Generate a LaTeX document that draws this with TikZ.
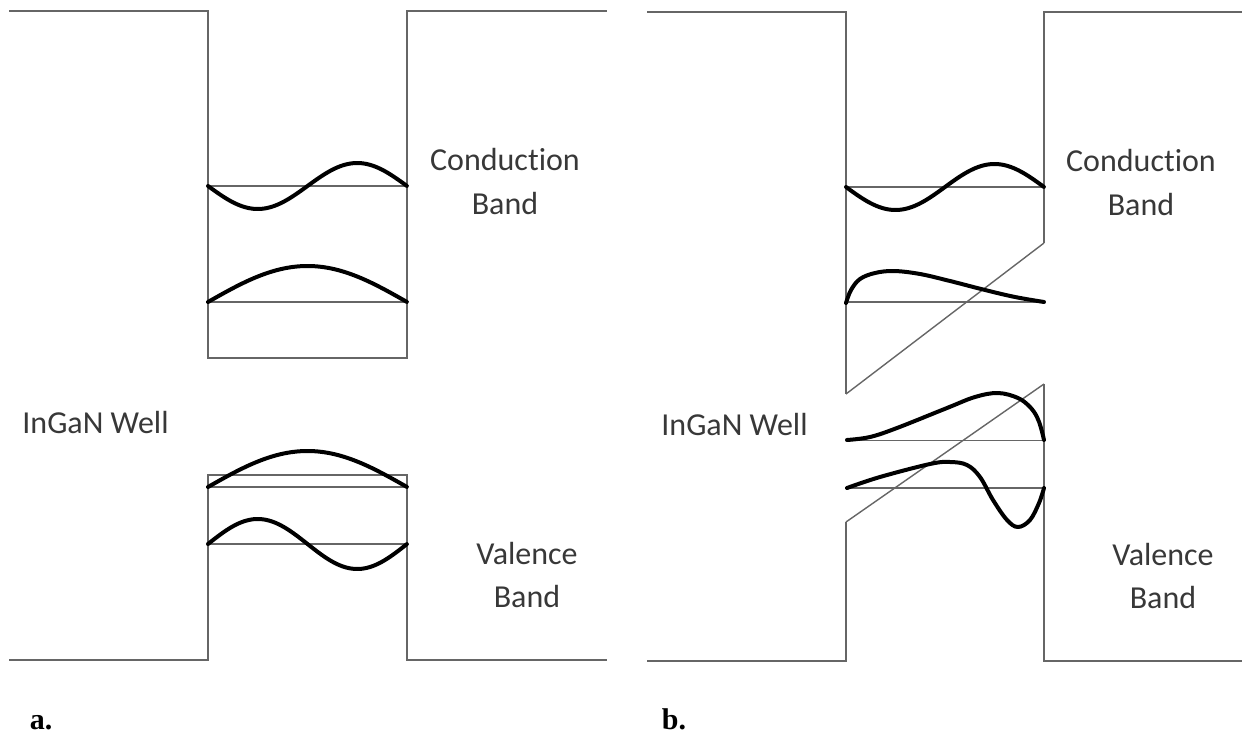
\documentclass[tikz,border=0pt]{standalone}
\usepackage{fontspec}
\setmainfont[Ligatures={NoCommon}]{Carlito}
\newfontfamily\serifb{Liberation Serif}
\begin{document}
\begin{tikzpicture}[x=0.5pt,y=-0.5pt,
  edge/.style={draw=black!60,line width=1pt},
  level/.style={draw=black!60,line width=0.9pt},
  slope/.style={draw=black!60,line width=0.7pt},
  wave/.style={draw=black,line width=2pt,line cap=round,line join=round},
  lab/.style={font=\fontsize{16}{19}\selectfont,text=black!78,inner sep=0pt,anchor=base},
  tag/.style={font=\serifb\bfseries\fontsize{15}{18}\selectfont,inner sep=0pt,anchor=base}]
\useasboundingbox (0,0) rectangle (1242,733);

% ---------- panel a ----------
\draw[edge] (9,11) -- (208,11) -- (208,358) -- (407,358) -- (407,11) -- (607,11);
\draw[edge] (9,660) -- (208,660) -- (208,475) -- (407,475) -- (407,660) -- (607,660);
\draw[level] (208,186) -- (407,186);
\draw[level] (208,302) -- (407,302);
\draw[level] (208,487) -- (407,487);
\draw[level] (208,544) -- (407,544);
\draw[wave] plot[domain=0:1,samples=80,variable=\t] ({208+199*\t},{186+23*sin(360*\t)});
\draw[wave] plot[domain=0:1,samples=80,variable=\t] ({208+199*\t},{302-36*sin(180*\t)});
\draw[wave] plot[domain=0:1,samples=80,variable=\t] ({208+199*\t},{487-36*sin(180*\t)});
\draw[wave] plot[domain=0:1,samples=80,variable=\t] ({208+199*\t},{544-25*sin(360*\t)});

\node[lab] (acb1) at (505,170) {Conduction};
\node[lab] (acb2) at (505,214) {Band};
\node[lab,anchor=base west] (awell) at (22,433) {InGaN Well};
\node[lab] (avb1) at (527,564) {Valence};
\node[lab] (avb2) at (527,607) {Band};
\node[tag] (atag) at (41,729) {a.};

% ---------- panel b ----------
\draw[edge] (647,12) -- (846,12) -- (846,394);
\draw[slope] (846,394) -- (1044,243);
\draw[edge] (1044,243) -- (1044,12) -- (1242,12);
\draw[edge] (647,661) -- (846,661) -- (846,522);
\draw[slope] (846,522) -- (1044,384);
\draw[edge] (1044,384) -- (1044,661) -- (1242,661);
\draw[level] (846,187) -- (1044,187);
\draw[level] (846,302) -- (1044,302);
\draw[level] (846,440.5) -- (1044,440.5);
\draw[level] (846,488) -- (1044,488);
\draw[wave] plot[domain=0:1,samples=80,variable=\t] ({846+198*\t},{187+23*sin(360*\t)});
\draw[wave] plot[smooth,tension=0.6] coordinates {(846,303) (851,290) (860,279) (875,273) (894,271) (920,274) (950,281) (985,290) (1015,297) (1044,302)};
\draw[wave] plot[smooth,tension=0.6] coordinates {(847,440) (870,437) (897,428) (947,408) (975,397) (998,393) (1018,398) (1030,407) (1037,417) (1041,428) (1044,440)};
\draw[wave] plot[smooth,tension=0.6] coordinates {(847,488) (880,477) (930,464) (950,462) (967,465) (980,477) (993,500) (1007,520) (1018,527) (1030,520) (1039,503) (1044,488)};

\node[lab] (bcb1) at (1141,171) {Conduction};
\node[lab] (bcb2) at (1141,215) {Band};
\node[lab,anchor=base west] (bwell) at (661,435) {InGaN Well};
\node[lab] (bvb1) at (1163,565) {Valence};
\node[lab] (bvb2) at (1163,608) {Band};
\node[tag] (btag) at (674,729) {b.};
\end{tikzpicture}
\end{document}
